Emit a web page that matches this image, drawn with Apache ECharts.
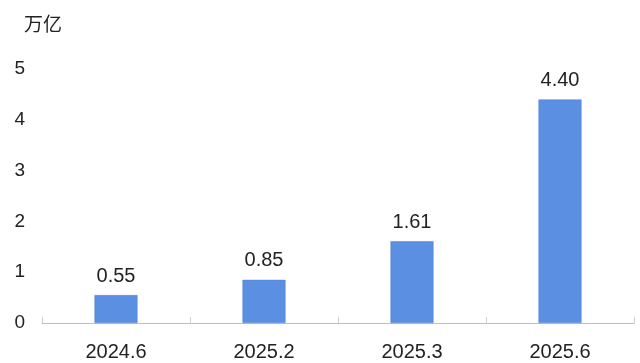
<!DOCTYPE html>
<html><head><meta charset="utf-8">
<script src="https://cdn.jsdelivr.net/npm/echarts@6/dist/echarts.min.js"></script>
<style>html,body{margin:0;padding:0;background:#fff}#c{width:640px;height:363px}</style>
</head><body><div id="c"></div>
<script>
const categories = ['2024.6', '2025.2', '2025.3', '2025.6'];
const values = [0.55, 0.85, 1.61, 4.40];
const yTicks = [0, 1, 2, 3, 4, 5];
const unitLabel = '万亿';

const chart = echarts.init(document.getElementById('c'));
chart.setOption({
  backgroundColor: '#fff',
  animation: false,
  grid: { left: 42, right: 6, top: 69, bottom: 40 },
  graphic: [{ type: 'text', left: 24, top: 14, style: { text: unitLabel, font: '19px "Noto Sans CJK SC", sans-serif', fill: '#222' } }],
  xAxis: {
    type: 'category', data: categories,
    axisLine: { lineStyle: { color: '#bfbfbf', width: 1 } },
    axisTick: { show: true, inside: true, length: 6, lineStyle: { color: '#d0d0d0' } },
    axisLabel: { color: '#222', fontSize: 20, margin: 19, fontFamily: 'Liberation Sans, Arial, sans-serif' }
  },
  yAxis: {
    type: 'value', min: yTicks[0], max: yTicks[yTicks.length - 1], interval: 1,
    splitLine: { show: false }, axisLine: { show: false }, axisTick: { show: false },
    axisLabel: { color: '#222', fontSize: 19, margin: 17, fontFamily: 'Liberation Sans, Arial, sans-serif' }
  },
  series: [{
    type: 'bar', data: values, barWidth: 43,
    itemStyle: { color: '#5b8fe2', borderColor: '#4f81cc', borderWidth: 0.5 },
    label: { show: true, position: 'top', distance: 9, color: '#222', fontSize: 20,
      fontFamily: 'Liberation Sans, Arial, sans-serif',
      formatter: p => p.value.toFixed(2) }
  }]
});
</script></body></html>
